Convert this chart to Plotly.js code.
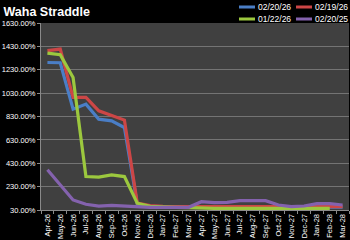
<!DOCTYPE html>
<html>
<head>
<meta charset="utf-8">
<script src="https://cdn.plot.ly/plotly-3.0.1.min.js"></script>
<style>html,body{margin:0;padding:0;background:#000;}#chart{width:350px;height:240px;}</style>
</head>
<body>
<div id="chart"></div>
<script>
const months = ["Apr-26","May-26","Jun-26","Jul-26","Aug-26","Sep-26","Oct-26","Nov-26","Dec-26","Jan-27","Feb-27","Mar-27","Apr-27","May-27","Jun-27","Jul-27","Aug-27","Sep-27","Oct-27","Nov-27","Dec-27","Jan-28","Feb-28","Mar-28"];
const s_022026 = [1292,1290,893,936,807,793,736,80,62,55,55,56,55,55,55,55,55,55,55,55,55,55,55,55];
const s_021926 = [1393,1407,993,993,879,841,799,90,68,62,62,62,60,59,59,59,59,59,59,59,59,59,59,59];
const s_012226 = [1373,1359,1164,316,311,331,316,88,62,55,53,50,45,44,44,44,44,44,44,44,44,44,44,null];
const s_022025 = [374,245,116,79,64,70,64,53,53,53,53,53,101,93,95,110,110,110,73,59,64,84,84,73];
const names = ["02/20/26","02/19/26","01/22/26","02/20/25"];
const colors = ["#4a7ec6","#cc4646","#9cc83e","#8462ae"];
const series = [s_022026, s_021926, s_012226, s_022025];

const W = 350, H = 240, M = {l: 41, r: 1, t: 23, b: 30};
const pw = W - M.l - M.r, ph = H - M.t - M.b;
const px2x = p => (p - M.l) / pw;
const py2y = p => (H - M.b - p) / ph;

const traces = series.map((ys, i) => ({
  type: "scatter", mode: "lines", x: months, y: ys, name: names[i],
  line: {color: colors[i], width: 3.2}, connectgaps: false, showlegend: false
}));

// custom legend: 2 columns x 2 rows
const legCols = [239, 296], legRows = [7, 19], swatch = 16;
const shapes = [], annotations = [];
names.forEach((n, i) => {
  const cx = legCols[i % 2], cy = legRows[Math.floor(i / 2)];
  shapes.push({type: "line", xref: "paper", yref: "paper",
    x0: px2x(cx), x1: px2x(cx + swatch), y0: py2y(cy), y1: py2y(cy),
    line: {color: colors[i], width: 3}});
  annotations.push({xref: "paper", yref: "paper", x: px2x(cx + swatch + 1), y: py2y(cy),
    xanchor: "left", yanchor: "middle", showarrow: false, text: n,
    font: {family: "Liberation Sans, Arial, sans-serif", size: 8.5, color: "#ffffff"}});
});

const layout = {
  width: W, height: H,
  paper_bgcolor: "#000000", plot_bgcolor: "#404040",
  margin: M,
  title: {text: "<b>Waha Straddle</b>", x: 0.01, xanchor: "left", y: 0.95, yanchor: "middle",
          font: {family: "Liberation Sans, Arial, sans-serif", size: 12.5, color: "#ffffff"}},
  showlegend: false,
  shapes: shapes, annotations: annotations,
  xaxis: {
    type: "category", range: [-0.5, 23.5], tickangle: -90,
    tickfont: {family: "Liberation Sans, Arial, sans-serif", size: 7.5, color: "#ffffff"},
    showgrid: false, showline: true, linecolor: "#8a8a8a", linewidth: 1,
    ticks: "outside", tickson: "boundaries", ticklen: 3, tickcolor: "#8a8a8a",
    zeroline: false, fixedrange: true
  },
  yaxis: {
    range: [30, 1630], tick0: 30, dtick: 200, tickformat: ".2f", ticksuffix: "%",
    tickfont: {family: "Liberation Sans, Arial, sans-serif", size: 7.5, color: "#ffffff"},
    showgrid: true, gridcolor: "#747474", gridwidth: 1,
    showline: true, linecolor: "#8a8a8a", linewidth: 1,
    ticks: "outside", ticklen: 3, tickcolor: "#8a8a8a",
    zeroline: false, fixedrange: true
  }
};

Plotly.newPlot("chart", traces, layout, {displayModeBar: false, staticPlot: true});
</script>
</body>
</html>
